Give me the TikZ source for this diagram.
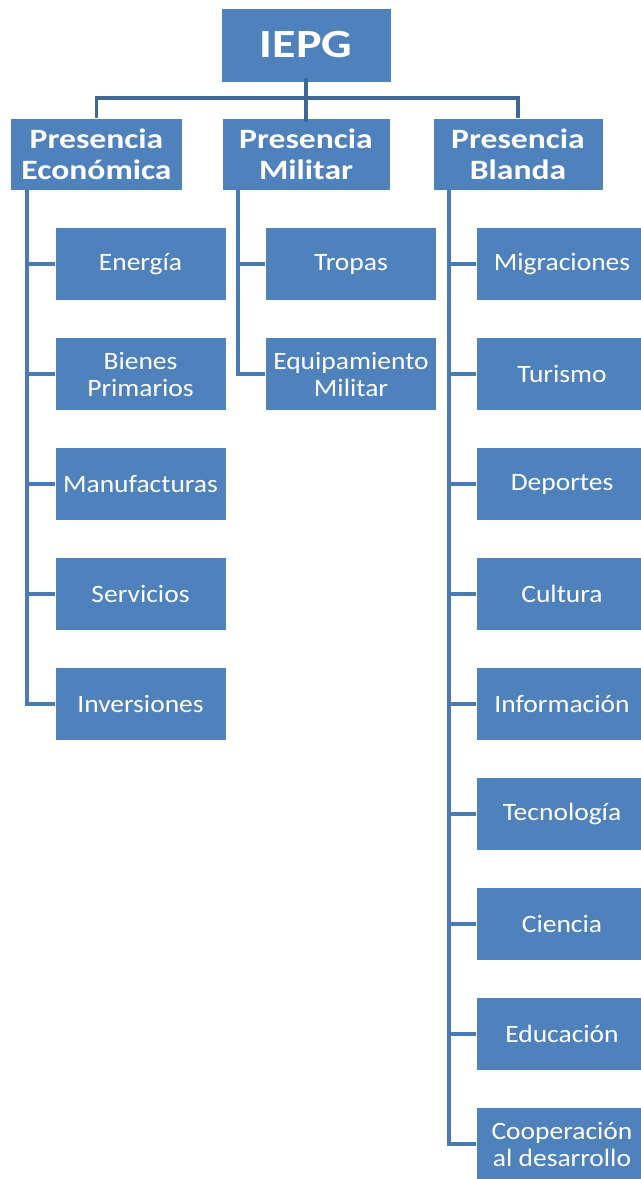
\documentclass[tikz,border=0pt]{standalone}
\usepackage{fontspec}
\setmainfont{Carlito}
\newfontfamily\childfont{Carlito}[FakeStretch=1.1]
\newfontfamily\headfont{Carlito}[FakeStretch=1.2]
\definecolor{boxblue}{HTML}{4F81BD}
\definecolor{linkblue}{HTML}{4A7AB4}
\definecolor{busblue}{HTML}{3F6896}
\begin{document}
\begin{tikzpicture}[x=1bp,y=-1bp,
  base/.style={rectangle, fill=boxblue, draw=white, line width=0.8bp, text=white, align=center, inner sep=0pt},
  topbox/.style={base, minimum width=170bp, minimum height=74bp, font=\headfont\fontsize{40bp}{44bp}\selectfont\bfseries},
  levbox/.style={base, minimum width=172bp, minimum height=72bp, font=\headfont\fontsize{28bp}{31bp}\selectfont\bfseries},
  childbox/.style={base, minimum width=171bp, minimum height=73bp, font=\childfont\fontsize{25bp}{27bp}\selectfont},
  bus/.style={draw=busblue, line width=3.2bp},
  link/.style={draw=linkblue, line width=3.2bp}
]
\useasboundingbox (0,0) rectangle (641,1179);
\node[topbox] (iepg) at (306,45) {IEPG};
\node[levbox] (pe) at (96.5,154) {Presencia\\Económica};
\node[levbox, minimum width=168bp] (pm) at (306,154) {Presencia\\Militar};
\node[levbox, minimum width=170bp] (pb) at (518,154) {Presencia\\Blanda};

\coordinate (bus) at (306,98);
\draw[bus] (pe.north) |- (bus) -| (pb.north);
\draw[bus] ([yshift=4bp]iepg.south) -- ([yshift=-4bp]pm.north);

% left column
\node[childbox] (ene) at (140.5,264) {Energía};
\node[childbox] (bie) at (140.5,374) {Bienes\\Primarios};
\node[childbox] (man) at (140.5,484) {Manufacturas};
\node[childbox] (ser) at (140.5,594) {Servicios};
\node[childbox] (inv) at (140.5,704) {Inversiones};
\coordinate (peL) at (27,190);
\draw[link] (peL) |- (inv.west);
\foreach \n in {ene,bie,man,ser}{\draw[link] (peL |- \n.west) -- (\n.west);}

% middle column
\node[childbox] (tro) at (351,264) {Tropas};
\node[childbox] (equ) at (351,374) {Equipamiento\\Militar};
\coordinate (pmL) at (238,190);
\draw[link] (pmL) |- (equ.west);
\draw[link] (pmL |- tro.west) -- (tro.west);

% right column
\node[childbox] (mig) at (562,264) {Migraciones};
\node[childbox] (tur) at (562,374) {Turismo};
\node[childbox] (dep) at (562,484) {Deportes};
\node[childbox] (cul) at (562,594) {Cultura};
\node[childbox] (inf) at (562,704) {Información};
\node[childbox] (tec) at (562,814) {Tecnología};
\node[childbox] (cie) at (562,924) {Ciencia};
\node[childbox] (edu) at (562,1034) {Educación};
\node[childbox] (coo) at (562,1144) {Cooperación\\al desarrollo};
\coordinate (pbL) at (449,190);
\draw[link] (pbL) |- (coo.west);
\foreach \n in {mig,tur,dep,cul,inf,tec,cie,edu}{\draw[link] (pbL |- \n.west) -- (\n.west);}
\end{tikzpicture}
\end{document}
